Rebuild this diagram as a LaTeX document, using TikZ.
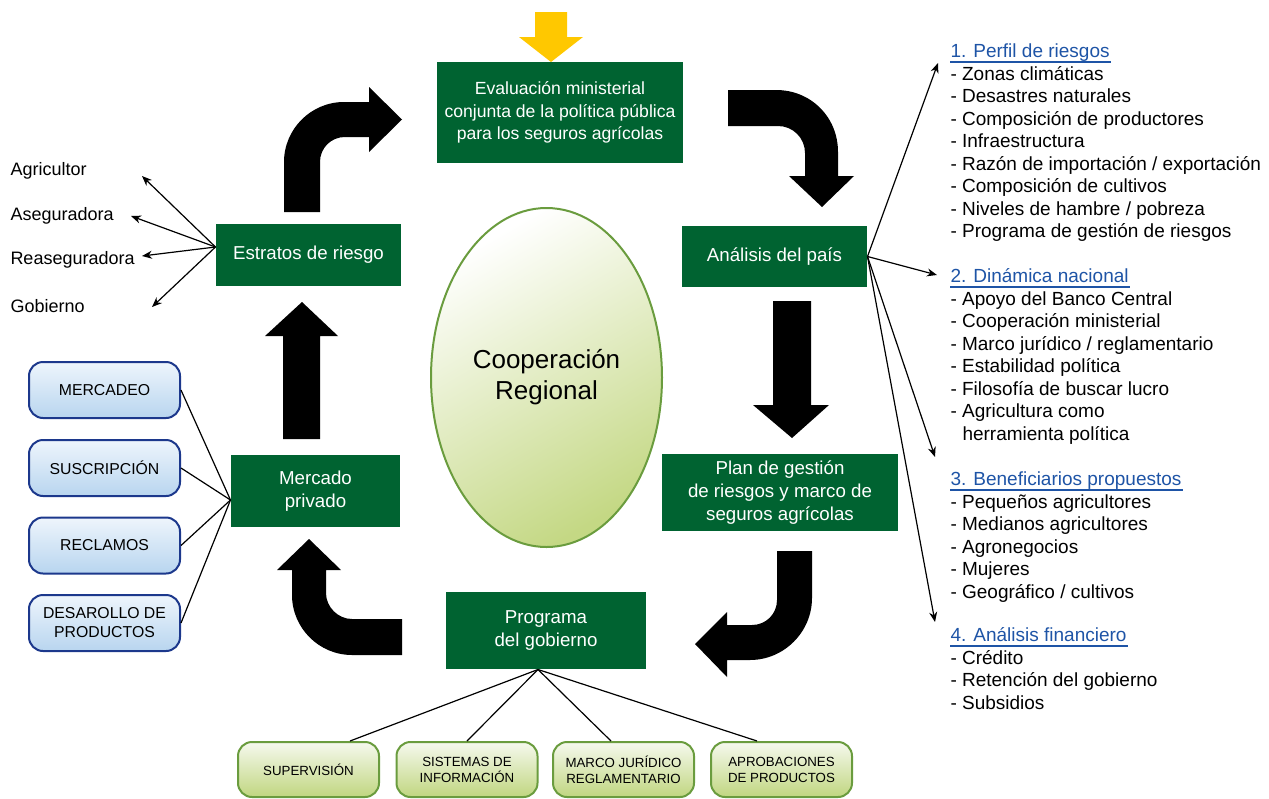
\documentclass[tikz,border=0pt]{standalone}
\usepackage{fontspec}
\setmainfont{Liberation Sans}
\usepackage{xcolor}
\usetikzlibrary{calc}
\usetikzlibrary{shapes}
\usetikzlibrary{arrows.meta}

\definecolor{boxgreen}{RGB}{0,99,49}
\definecolor{ellgreen}{RGB}{196,216,132}
\definecolor{ellline}{RGB}{106,156,62}
\definecolor{govtop}{RGB}{246,249,238}
\definecolor{govbot}{RGB}{192,214,128}
\definecolor{mkttop}{RGB}{238,245,252}
\definecolor{mktbot}{RGB}{184,213,239}
\definecolor{mktline}{RGB}{28,56,140}
\definecolor{headblue}{RGB}{30,84,166}
\definecolor{gold}{RGB}{255,200,0}

\begin{document}
\begin{tikzpicture}
[x=1pt,y=-1pt,line width=1pt,
 stage/.style={fill=boxgreen,text=white,align=center,inner sep=0pt,font=\fontsize{18.7}{23}\selectfont},
 market/.style={draw=mktline,line width=2pt,rounded corners=14pt,top color=mkttop,bottom color=mktbot,
   minimum width=151pt,minimum height=56pt,align=center,inner sep=0pt,font=\fontsize{15.8}{19}\selectfont},
 gov/.style={draw=ellline,line width=2pt,rounded corners=14pt,top color=govtop,bottom color=govbot,
   minimum width=141pt,minimum height=55pt,align=center,inner sep=0pt,font=\fontsize{13.3}{16}\selectfont},
 side/.style={anchor=base west,inner sep=0pt,font=\fontsize{18}{22.5}\selectfont},
 txt/.style={anchor=base west,inner sep=0pt,font=\fontsize{19}{22.5}\selectfont},
 head/.style={txt,text=headblue},
 fan/.style={line width=1.2pt,-{Stealth[length=10pt,width=8pt]}},
 link/.style={line width=1.2pt}]

\useasboundingbox (0,0) rectangle (1269,798);

% stages
\node[stage,minimum width=246pt,minimum height=101pt,font=\fontsize{17.6}{22.5}\selectfont] (eval) at (560,112.5)
  {Evaluación ministerial\\conjunta de la política pública\\para los seguros agrícolas};
\node[stage,minimum width=185pt,minimum height=62pt] (estratos) at (308.5,255) {Estratos de riesgo};
\node[stage,minimum width=185pt,minimum height=61pt] (analisis) at (774.5,256.5) {Análisis del país};
\node[stage,minimum width=169pt,minimum height=72pt] (mercado) at (315.5,491) {Mercado\\privado};
\node[stage,minimum width=236pt,minimum height=77pt] (plan) at (780,492.5)
  {Plan de gestión\\de riesgos y marco de\\seguros agrícolas};
\node[stage,minimum width=200pt,minimum height=77pt] (prog) at (546,630.5) {Programa\\del gobierno};

\node[ellipse,draw=ellline,line width=2pt,top color=white,bottom color=ellgreen,shading angle=30,
  minimum width=231pt,minimum height=339pt,inner sep=0pt,align=center,
  font=\fontsize{26}{31}\selectfont] (coop) at (546.5,377.5) {Cooperación\\Regional};

% cycle arrows
\fill[gold] (535,12) -- (567,12) -- (567,37) -- (583,37) -- (551,62) -- (519,37) -- (535,37) -- cycle; %input
\fill (284,212) -- (284,162) .. controls (284,129) and (311,102) .. (344,102) -- (369,102) -- (369,87)
  -- (402,119.5) -- (369,152) -- (369,137) -- (345,137) .. controls (331,137) and (320,148) .. (320,162)
  -- (320,212) -- cycle; %to eval
\fill (728,90) -- (776,90) .. controls (811,90) and (838,117) .. (838,152) -- (838,176) -- (854,176)
  -- (822,207) -- (789,176) -- (805,176) -- (805,153) .. controls (805,138) and (793,126) .. (778,126)
  -- (728,126) -- cycle; %to analisis
\fill (773,301) -- (811,301) -- (811,405) -- (829,405) -- (792,438) -- (753,405) -- (773,405) -- cycle; %to plan
\fill (777,551) -- (812,551) -- (812,598) .. controls (812,632) and (784,660) .. (750,660) -- (727,660)
  -- (727,677) -- (695,644) -- (727,612) -- (727,625) -- (752,625) .. controls (766,625) and (777,614) .. (777,600)
  -- cycle; %to prog
\fill (309,539) -- (341,570) -- (326,570) -- (326,593) .. controls (326,607) and (338,619) .. (352,619)
  -- (402,619) -- (402,655) -- (352,655) .. controls (319,655) and (292,628) .. (292,595) -- (292,570)
  -- (277,570) -- cycle; %to mercado
\fill (283,439) -- (320,439) -- (320,336) -- (338,336) -- (302,302) -- (265,336) -- (283,336) -- cycle; %to estratos

% estratos fan
\node[side] (agri) at (10,175.5) {Agricultor};
\node[side] (aseg) at (10,220.5) {Aseguradora};
\node[side] (rease) at (10,264.5) {Reaseguradora};
\node[side] (gobi) at (10,312.5) {Gobierno};
\coordinate (agri-tip) at (142,176);
\coordinate (aseg-tip) at (131,216);
\coordinate (rease-tip) at (142,256);
\coordinate (gobi-tip) at (152,307);
\foreach \n in {agri,aseg,rease,gobi}
  \draw[fan] ([yshift=8pt]estratos.west) -- (\n-tip);

% private market
\node[market] (mkt1) at (104.5,390) {MERCADEO};
\node[market] (mkt2) at (104.5,468) {SUSCRIPCIÓN};
\node[market] (mkt3) at (104.5,545.5) {RECLAMOS};
\node[market] (mkt4) at (104.5,623) {DESAROLLO DE\\PRODUCTOS};
\foreach \i in {1,...,4}
  \draw[link] (mkt\i.east) -- ([yshift=-9pt]mercado.west);

% government program
\node[gov] (sup) at (308.5,769.5) {SUPERVISIÓN};
\node[gov] (sis) at (467,769.5) {SISTEMAS DE\\INFORMACIÓN};
\node[gov] (marco) at (623.5,769.5) {MARCO JURÍDICO\\REGLAMENTARIO};
\node[gov] (aprob) at (781.5,769.5) {APROBACIONES\\DE PRODUCTOS};
\draw[link] ([xshift=-8pt]prog.south) -- ([xshift=41.5pt]sup.north);
\draw[link] ([xshift=-8pt]prog.south) -- (sis.north);
\draw[link] ([xshift=-8pt]prog.south) -- ([xshift=-12.5pt]marco.north);
\draw[link] ([xshift=-8pt]prog.south) -- ([xshift=-24.5pt]aprob.north);

% country analysis
\node[head] (perfil) at (950,57.5) {1. Perfil de riesgos};
\foreach \t [count=\i] in {Zonas climáticas,Desastres naturales,Composición de productores,Infraestructura,
  Razón de importación / exportación,Composición de cultivos,Niveles de hambre / pobreza,Programa de gestión de riesgos}
  \node[txt] (perfil-\i) at (950,57.5+22.5*\i) {- \t};

\node[head] (dinamica) at (950,282.5) {2. Dinámica nacional};
\foreach \t [count=\i] in {Apoyo del Banco Central,Cooperación ministerial,Marco jurídico / reglamentario,
  Estabilidad política,Filosofía de buscar lucro,Agricultura como}
  \node[txt] (dinamica-\i) at (950,282.5+22.5*\i) {- \t};
\node[txt] (dinamica-7) at (962,440) {herramienta política};

\node[head] (benef) at (950,485.5) {3. Beneficiarios propuestos};
\foreach \t [count=\i] in {Pequeños agricultores,Medianos agricultores,Agronegocios,Mujeres,Geográfico / cultivos}
  \node[txt] (benef-\i) at (950,485.5+22.5*\i) {- \t};

\node[head] (finan) at (950,641.5) {4. Análisis financiero};
\foreach \t [count=\i] in {Crédito,Retención del gobierno,Subsidios}
  \node[txt] (finan-\i) at (950,641.5+22.5*\i) {- \t};

\foreach \n in {perfil,dinamica,benef,finan}
  \draw[headblue,line width=1.4pt] ($(\n.base west)+(0,4.5)$) -- ($(\n.base east)+(1,4.5)$); %underline

\coordinate (perfil-tip) at (938,63);
\coordinate (dinamica-tip) at (937,275);
\coordinate (benef-tip) at (935,457);
\coordinate (finan-tip) at (935,622);
\foreach \n in {perfil,dinamica,benef,finan}
  \draw[fan] (analisis.east) -- (\n-tip);

\end{tikzpicture}
\end{document}
